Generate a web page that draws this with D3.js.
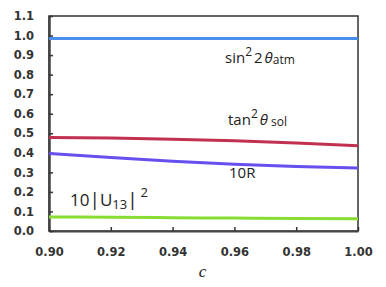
<!DOCTYPE html>
<html>
<head>
<meta charset="utf-8">
<script src="https://cdn.jsdelivr.net/npm/d3@7"></script>
<style>
body { margin: 0; background: #fff; }
.tick text { font-family: "DejaVu Sans", Verdana, sans-serif; font-weight: bold; font-size: 11.5px; fill: #333; }
.lbl { font-family: "Open Sans", "Noto Sans", sans-serif; font-size: 15px; fill: #222; }
</style>
</head>
<body>
<svg id="chart" width="386" height="287"></svg>
<script>
var cValues = [0.90, 0.92, 0.94, 0.96, 0.98, 1.00];
var atmValues = [0.985, 0.985, 0.985, 0.985, 0.985, 0.985];
var solValues = [0.479, 0.476, 0.470, 0.462, 0.450, 0.436];
var rValues = [0.397, 0.376, 0.357, 0.342, 0.330, 0.322];
var u13Values = [0.072, 0.070, 0.068, 0.066, 0.064, 0.063];
var xTicks = [0.90, 0.92, 0.94, 0.96, 0.98, 1.00];
var yTicks = [0.0, 0.1, 0.2, 0.3, 0.4, 0.5, 0.6, 0.7, 0.8, 0.9, 1.0, 1.1];

var series = [
	{values: atmValues, color: "#4a8eec"},
	{values: solValues, color: "#c2304f"},
	{values: rValues, color: "#6650ee"},
	{values: u13Values, color: "#88dd33"}
];

var margin = {left: 49, right: 28, top: 16, bottom: 56};
var width = 386, height = 287;

var svg = d3.select("#chart");

var x = d3.scaleLinear().domain([0.9, 1.0]).range([margin.left, width - margin.right]);
var y = d3.scaleLinear().domain([0, 1.1]).range([height - margin.bottom, margin.top]);

// frame
svg.append("rect")
	.attr("x", x(0.9)).attr("y", y(1.1))
	.attr("width", x(1.0) - x(0.9)).attr("height", y(0) - y(1.1))
	.attr("fill", "none").attr("stroke", "#333").attr("stroke-width", 1.5);

let xAxis = svg.append("g")
	.attr("transform", "translate(0," + y(0) + ")")
	.call(d3.axisBottom(x).tickValues(xTicks).tickFormat(d3.format(".2f")).tickSizeInner(-4).tickSizeOuter(0).tickPadding(17));
xAxis.select(".domain").attr("stroke", "#444").attr("stroke-width", 2);
xAxis.selectAll(".tick line").attr("stroke", "#333").attr("stroke-width", 1.5);

let yAxis = svg.append("g")
	.attr("transform", "translate(" + x(0.9) + ",0)")
	.call(d3.axisLeft(y).tickValues(yTicks).tickFormat(d3.format(".1f")).tickSizeInner(-4).tickSizeOuter(0).tickPadding(15));
yAxis.select(".domain").attr("stroke", "#444").attr("stroke-width", 2.5);
yAxis.selectAll(".tick line").attr("stroke", "#333").attr("stroke-width", 1.5);

var line = d3.line()
	.x(function(d, i) { return x(cValues[i]); })
	.y(function(d) { return y(d); })
	.curve(d3.curveMonotoneX);

svg.append("g").selectAll("path")
	.data(series)
	.enter()
	.append("path")
	.attr("d", function(d) { return line(d.values); })
	.attr("fill", "none")
	.attr("stroke", function(d) { return d.color; })
	.attr("stroke-width", 3);

// labels
let t1 = svg.append("text").attr("class", "lbl").attr("x", 225).attr("y", 63);
t1.append("tspan").text("sin");
t1.append("tspan").attr("dy", -7).style("font-size", "12px").text("2");
t1.append("tspan").attr("dy", 7).attr("dx", 2).text("2");
t1.append("tspan").attr("dx", 2).attr("font-style", "italic").text("θ");
t1.append("tspan").style("font-size", "12px").attr("dy", 1).text("atm");

let t2 = svg.append("text").attr("class", "lbl").attr("x", 228).attr("y", 125);
t2.append("tspan").text("tan");
t2.append("tspan").attr("dy", -7).style("font-size", "12px").text("2");
t2.append("tspan").attr("dy", 7).attr("dx", 2).attr("font-style", "italic").text("θ");
t2.append("tspan").attr("dx", 3).style("font-size", "12px").attr("dy", 1).text("sol");

svg.append("text").attr("class", "lbl").attr("x", 229).attr("y", 178).text("10R");

let t4 = svg.append("text").attr("class", "lbl").attr("x", 70).attr("y", 206).style("font-size", "17px");
t4.append("tspan").text("10");
t4.append("tspan").style("font-size", "19px").text("|");
t4.append("tspan").text("U");
t4.append("tspan").style("font-size", "13px").attr("dy", 3).text("13");
t4.append("tspan").attr("dy", -3).style("font-size", "19px").text("|");
t4.append("tspan").attr("dy", -9).attr("dx", 3).style("font-size", "13px").text("2");

svg.append("text")
	.attr("x", (x(0.9) + x(1.0)) / 2 - 1).attr("y", 277)
	.attr("text-anchor", "middle")
	.attr("font-family", "Liberation Serif, DejaVu Serif, serif")
	.attr("font-style", "italic").attr("font-size", 17).attr("fill", "#222")
	.text("c");
</script>
</body>
</html>
